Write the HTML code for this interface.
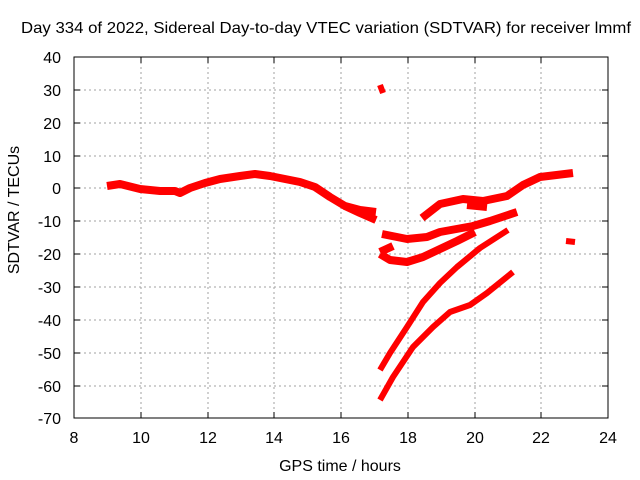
<!DOCTYPE html>
<html><head><meta charset="utf-8"><style>body{margin:0;background:#fff}svg{display:block}text{font-family:"Liberation Sans",sans-serif;font-size:16px;fill:#000}</style></head><body>
<svg width="640" height="480" viewBox="0 0 640 480">
<g stroke="#a0a0a0" stroke-dasharray="2,3" stroke-width="1">
<path d="M141,57V418M208,57V418M274,57V418M341,57V418M408,57V418M475,57V418M541,57V418"/>
<path d="M74,90H608M74,123H608M74,156H608M74,188H608M74,221H608M74,254H608M74,287H608M74,320H608M74,353H608M74,386H608"/>
</g>
<rect x="74" y="57" width="534" height="361" fill="none" stroke="#000" stroke-width="1"/>
<g stroke="#000"><path d="M74,90h6M74,123h6M74,156h6M74,188h6M74,221h6M74,254h6M74,287h6M74,320h6M74,353h6M74,386h6M608,90h-6M608,123h-6M608,156h-6M608,188h-6M608,221h-6M608,254h-6M608,287h-6M608,320h-6M608,353h-6M608,386h-6M141,418v-6M208,418v-6M274,418v-6M341,418v-6M408,418v-6M475,418v-6M541,418v-6M141,57v6M208,57v6M274,57v6M341,57v6M408,57v6M475,57v6M541,57v6"/></g>
<g text-anchor="end">
<text x="61" y="63">40</text><text x="61" y="96">30</text><text x="61" y="129">20</text><text x="61" y="162">10</text><text x="61" y="194">0</text><text x="61" y="227">-10</text><text x="61" y="260">-20</text><text x="61" y="293">-30</text><text x="61" y="326">-40</text><text x="61" y="359">-50</text><text x="61" y="392">-60</text><text x="61" y="424">-70</text>
</g>
<g text-anchor="middle">
<text x="74" y="443">8</text><text x="141" y="443">10</text><text x="208" y="443">12</text><text x="274" y="443">14</text><text x="341" y="443">16</text><text x="408" y="443">18</text><text x="475" y="443">20</text><text x="541" y="443">22</text><text x="608" y="443">24</text>
<text x="340" y="471">GPS time / hours</text>
<text x="326" y="33" textLength="610" lengthAdjust="spacingAndGlyphs">Day 334 of 2022, Sidereal Day-to-day VTEC variation (SDTVAR) for receiver lmmf</text>
<text transform="translate(19,210) rotate(-90)">SDTVAR / TECUs</text>
</g>
<g fill="none" stroke="#f00" stroke-width="8" stroke-linejoin="round" stroke-linecap="butt">
<polyline points="107,186 120,184 140,189 160,191 175,191 180,193 190,188 205,183 220,179 240,176 255,174 270,176 285,179 300,182 315,187 330,197 345,206 360,210 376,212"/>
<polyline points="345,206 360,213 376,220"/>
<polyline points="422,218 440,204 463,199 483,201 507,196 523,185 540,177 573,173"/>
<polyline points="467,205 487,207"/>
<polyline points="382,234 407,239 427,237 440,232 473,226 490,221 517,212"/>
<polyline points="380,252 393,246"/>
<polyline points="380,254 390,260 407,262 423,257 440,249 457,241 475,232"/>
<polyline points="380,370 390,353 407,327 423,302 440,283 457,267 480,248 508,230" stroke-width="6"/>
<polyline points="380,400 393,377 413,347 433,327 450,312 470,305 487,293 513,272" stroke-width="6"/>
<polyline points="380,85 383,93" stroke-width="6"/>
<polyline points="566,241 575,242" stroke-width="6"/>
</g>
</svg>
</body></html>
